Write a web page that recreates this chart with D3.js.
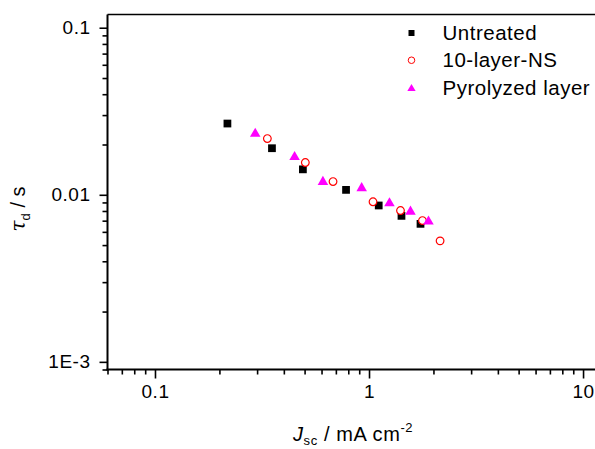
<!DOCTYPE html>
<html>
<head>
<meta charset="utf-8">
<script src="https://cdn.jsdelivr.net/npm/d3@7"></script>
<style>
  html, body { margin: 0; padding: 0; background: #fff; }
  svg { display: block; font-family: Arial, "Liberation Sans", sans-serif; }
</style>
</head>
<body>
<svg id="chart" width="595" height="449"></svg>
<script>
// ---- data ----
const seriesNames = ["Untreated", "10-layer-NS", "Pyrolyzed layer"];
const untreatedJ   = [0.218, 0.352, 0.491, 0.781, 1.110, 1.418, 1.740];
const untreatedTau = [0.0267, 0.0190, 0.0142, 0.0107, 0.00863, 0.00748, 0.00670];
const nsJ   = [0.335, 0.504, 0.679, 1.044, 1.403, 1.777, 2.148];
const nsTau = [0.0217, 0.0156, 0.0120, 0.00908, 0.00805, 0.00701, 0.00530];
const pyroJ   = [0.294, 0.449, 0.609, 0.924, 1.246, 1.562, 1.896];
const pyroTau = [0.0237, 0.0172, 0.0122, 0.0112, 0.00909, 0.00810, 0.00706];
const xTickValues = [0.1, 1, 10];
const xTickLabels = ["0.1", "1", "10"];
const yTickValues = [0.001, 0.01, 0.1];
const yTickLabels = ["1E-3", "0.01", "0.1"];
const xDomain = [0.06, 12];
const yDomain = [0.0009, 0.12];

// ---- layout ----
const svg = d3.select("#chart");
const L = 107.5, R = 600, T = 14.5, B = 369.5;

const x = d3.scaleLog().domain(xDomain).range([L, R]);
const y = d3.scaleLog().domain(yDomain).range([B, T]);

function minorTicks(domain) {
  const out = [];
  const lo = Math.floor(Math.log10(domain[0])), hi = Math.ceil(Math.log10(domain[1]));
  for (let e = lo; e <= hi; e++) {
    for (let m = 2; m <= 9; m++) {
      const v = m * Math.pow(10, e);
      if (v >= domain[0] * 0.9999 && v <= domain[1] * 1.0001) out.push(v);
    }
  }
  return out;
}

// frame top line
svg.append("line").attr("x1", L).attr("x2", R).attr("y1", T).attr("y2", T)
  .attr("stroke", "#000").attr("stroke-width", 1.4);

// X axis
const gx = svg.append("g").attr("transform", `translate(0,${B})`);
gx.call(d3.axisBottom(x).tickValues(minorTicks(xDomain)).tickSize(5).tickFormat(""))
  .call(g => g.select(".domain").remove());
gx.append("g").call(d3.axisBottom(x).tickValues(xTickValues).tickSize(9)
    .tickFormat((d, i) => xTickLabels[i]).tickPadding(6))
  .call(g => g.select(".domain").remove());
gx.append("line").attr("x1", L - 1).attr("x2", R).attr("y1", 0).attr("y2", 0)
  .attr("stroke", "#000").attr("stroke-width", 2);

// Y axis
const gy = svg.append("g").attr("transform", `translate(${L},0)`);
gy.call(d3.axisLeft(y).tickValues(minorTicks(yDomain)).tickSize(5).tickFormat(""))
  .call(g => g.select(".domain").remove());
gy.append("g").call(d3.axisLeft(y).tickValues(yTickValues).tickSize(8)
    .tickFormat((d, i) => yTickLabels[i]).tickPadding(9))
  .call(g => g.select(".domain").remove());
gy.append("line").attr("x1", 0).attr("x2", 0).attr("y1", T).attr("y2", B + 1)
  .attr("stroke", "#000").attr("stroke-width", 2);

svg.selectAll(".tick line").attr("stroke", "#000").attr("stroke-width", 1.6);
svg.selectAll(".tick text").attr("fill", "#000").attr("font-size", 19)
  .attr("letter-spacing", 0.5)
  .attr("font-family", "Arial, 'Liberation Sans', sans-serif");
gx.selectAll(".tick text").attr("dy", "0.71em");

// Axis titles
const xt = svg.append("text").attr("x", 293).attr("y", 440.5)
  .attr("font-size", 20).attr("letter-spacing", 0.6).attr("fill", "#000");
xt.append("tspan").attr("font-style", "italic").text("J");
xt.append("tspan").attr("font-size", 13).attr("dy", 4).text("sc");
xt.append("tspan").attr("dy", -4).text(" / mA cm");
xt.append("tspan").attr("font-size", 13).attr("dy", -9).text("-2");

const yt = svg.append("text").attr("transform", "translate(25,209) rotate(-90)")
  .attr("text-anchor", "middle").attr("font-size", 20).attr("fill", "#000");
yt.append("tspan").attr("font-style", "italic").attr("font-family", "'DejaVu Serif', serif").text("τ");
yt.append("tspan").attr("font-size", 13).attr("dy", 5).text("d");
yt.append("tspan").attr("dy", -5).text(" / s");

// triangle symbol centred on its bounding box
const triBox = {
  draw(ctx, size) {
    const h = Math.sqrt(size * 4 / Math.sqrt(3)) * Math.sqrt(3) / 2;
    const w = h * 2 / Math.sqrt(3);
    ctx.moveTo(0, -h / 2);
    ctx.lineTo(w / 2, h / 2);
    ctx.lineTo(-w / 2, h / 2);
    ctx.closePath();
  }
};

const plot = svg.append("g");
plot.selectAll(".sq").data(d3.zip(untreatedJ, untreatedTau)).join("path")
  .attr("transform", d => `translate(${x(d[0])},${y(d[1])})`)
  .attr("d", d3.symbol().type(d3.symbolSquare).size(60))
  .attr("fill", "#000");
plot.selectAll(".ci").data(d3.zip(nsJ, nsTau)).join("path")
  .attr("transform", d => `translate(${x(d[0])},${y(d[1])})`)
  .attr("d", d3.symbol().type(d3.symbolCircle).size(46))
  .attr("fill", "#fff").attr("stroke", "#ff0000").attr("stroke-width", 1.2);
plot.selectAll(".tr").data(d3.zip(pyroJ, pyroTau)).join("path")
  .attr("transform", d => `translate(${x(d[0])},${y(d[1])})`)
  .attr("d", d3.symbol().type(triBox).size(48))
  .attr("fill", "#ff00ff");

// Legend
const legY = d3.scalePoint().domain(seriesNames).range([33, 87.5]);
const leg = svg.append("g");
const legSyms = [
  { type: d3.symbolSquare, size: 36, fill: "#000", stroke: "none" },
  { type: d3.symbolCircle, size: 34, fill: "#fff", stroke: "#ff0000" },
  { type: triBox, size: 30, fill: "#ff00ff", stroke: "none" }
];
seriesNames.forEach((name, i) => {
  const s = legSyms[i];
  leg.append("path")
    .attr("transform", `translate(411.5,${legY(name)})`)
    .attr("d", d3.symbol().type(s.type).size(s.size))
    .attr("fill", s.fill).attr("stroke", s.stroke).attr("stroke-width", 1);
  leg.append("text").attr("x", 442.5).attr("y", legY(name)).attr("dy", "0.35em")
    .attr("font-size", 20.5).attr("letter-spacing", 0.5).attr("fill", "#000").text(name);
});
</script>
</body>
</html>
